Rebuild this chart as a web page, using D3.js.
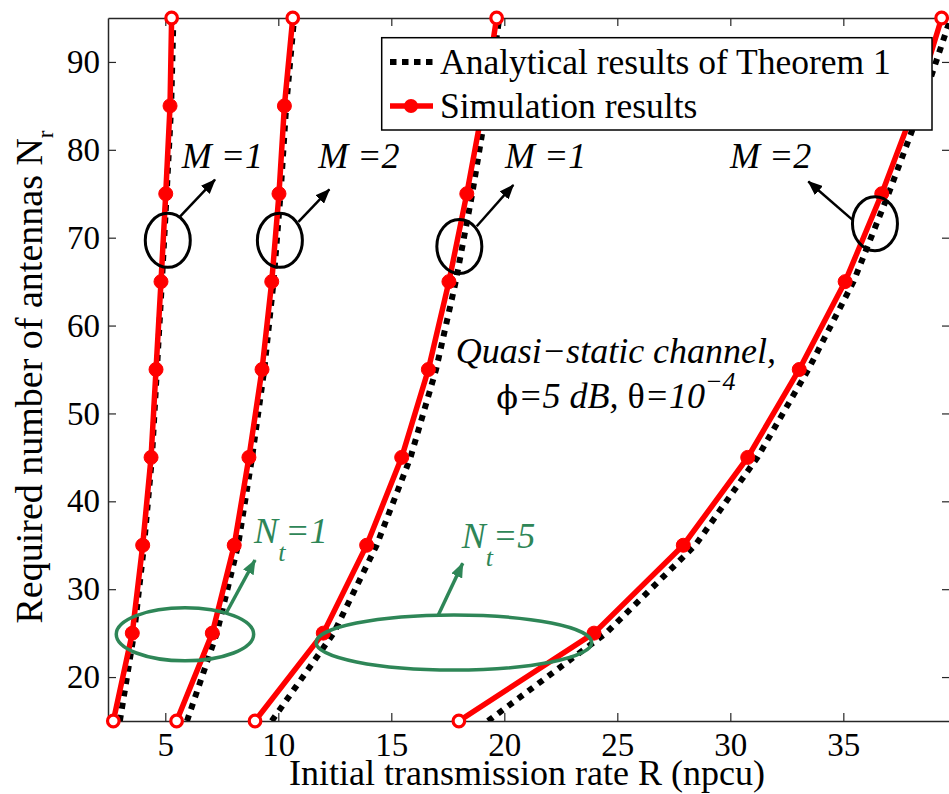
<!DOCTYPE html>
<html>
<head>
<meta charset="utf-8">
<script src="https://cdn.jsdelivr.net/npm/d3@7"></script>
<style>
  html, body { margin: 0; padding: 0; background: #fff; }
  text { font-family: "Liberation Serif", "Times New Roman", serif; }
</style>
</head>
<body>
<script>
// Required number of receive antennas (y values shared by every curve)
const nrValues = [15, 25, 35, 45, 55, 65, 75, 85, 95];

// Initial transmission rate R, one array per curve
const simNt1M1 = [2.70, 3.54, 4.00, 4.37, 4.59, 4.81, 5.02, 5.21, 5.28];
const anaNt1M1 = [2.99, 3.62, 4.06, 4.41, 4.63, 4.85, 5.06, 5.26, 5.36];
const simNt1M2 = [5.50, 7.08, 8.05, 8.70, 9.28, 9.71, 10.03, 10.27, 10.64];
const anaNt1M2 = [5.96, 7.28, 8.22, 8.84, 9.38, 9.79, 10.10, 10.35, 10.70];
const simNt5M1 = [8.97, 11.99, 13.91, 15.46, 16.64, 17.55, 18.34, 19.06, 19.66];
const anaNt5M1 = [9.71, 12.45, 14.35, 15.85, 16.98, 17.85, 18.58, 19.22, 19.78];
const simNt5M2 = [17.99, 23.97, 27.92, 30.77, 33.05, 35.08, 36.70, 38.17, 39.35];
const anaNt5M2 = [19.28, 24.50, 28.45, 31.20, 33.45, 35.45, 37.00, 38.45, 39.75];

// Axis ticks and labels
const xTicks = [5, 10, 15, 20, 25, 30, 35];
const yTicks = [20, 30, 40, 50, 60, 70, 80, 90];
const xLabel = "Initial transmission rate R (npcu)";
const yLabel = "Required number of antennas N";
const legendLabels = ["Analytical results of Theorem 1", "Simulation results"];

// Annotations (data coordinates)
const mLabels = [
    { text: "M =1", x: 5.73, y: 77.9 },
    { text: "M =2", x: 11.77, y: 77.9 },
    { text: "M =1", x: 20.03, y: 77.9 },
    { text: "M =2", x: 29.99, y: 77.9 }
];
const mEllipses = [
    { cx: 5.11, cy: 69.7 }, { cx: 10.07, cy: 69.7 },
    { cx: 18.01, cy: 69.0 }, { cx: 36.40, cy: 71.6 }
];
const mArrows = [
    { x1: 5.65, y1: 72.4, x2: 7.20, y2: 76.6 },
    { x1: 10.89, y1: 71.8, x2: 12.26, y2: 75.5 },
    { x1: 18.78, y1: 71.3, x2: 20.40, y2: 76.0 },
    { x1: 35.42, y1: 72.0, x2: 33.45, y2: 76.4 }
];
const ntLabels = [
    { sub: "t", val: "=1", x: 8.93, y: 35.3 },
    { sub: "t", val: "=5", x: 18.12, y: 34.65 }
];
const ntEllipses = [
    { cx: 5.87, cy: 24.87, rx: 68.7, ry: 26.5 },
    { cx: 17.77, cy: 23.93, rx: 137.8, ry: 27.5 }
];
const ntArrows = [
    { x1: 7.69, y1: 27.26, x2: 8.97, y2: 33.32 },
    { x1: 17.08, y1: 27.06, x2: 18.16, y2: 32.95 }
];

const W = 949, H = 794;
const plot = { left: 108, right: 950, top: 18, bottom: 721 };
const green = "#2e8657";

const svg = d3.select("body").append("svg")
    .attr("width", W)
    .attr("height", H)
    .style("display", "block");

svg.append("rect").attr("width", W).attr("height", H).attr("fill", "#fff");

const x = d3.scaleLinear().domain([2.465, 39.72]).range([plot.left, plot.right]);
const y = d3.scaleLinear().domain([15, 95]).range([plot.bottom, plot.top]);

const defs = svg.append("defs");
defs.append("clipPath").attr("id", "clip")
    .append("rect")
    .attr("x", plot.left).attr("y", plot.top)
    .attr("width", plot.right - plot.left)
    .attr("height", plot.bottom - plot.top);

function arrowHead(id, color) {
    defs.append("marker")
        .attr("id", id)
        .attr("markerUnits", "userSpaceOnUse")
        .attr("viewBox", "0 0 15 12")
        .attr("refX", 14).attr("refY", 6)
        .attr("markerWidth", 15).attr("markerHeight", 12)
        .attr("orient", "auto")
        .append("path")
        .attr("d", "M0,0 L15,6 L0,12 Z")
        .attr("fill", color);
}
arrowHead("headBlack", "#000");
arrowHead("headGreen", green);

// axes (box with inward ticks on all sides)
function styleAxis(g) {
    g.attr("font-family", null).attr("font-size", 33);
    g.select(".domain").attr("stroke", "#262626").attr("stroke-width", 1.5);
    g.selectAll(".tick line").attr("stroke", "#262626").attr("stroke-width", 1.2);
    g.selectAll(".tick text").attr("fill", "#000");
}

svg.append("g")
    .attr("transform", `translate(0,${plot.bottom})`)
    .call(d3.axisBottom(x).tickValues(xTicks).tickSize(-8).tickSizeOuter(0).tickPadding(12))
    .call(styleAxis);

svg.append("g")
    .attr("transform", `translate(0,${plot.top})`)
    .call(d3.axisTop(x).tickValues(xTicks).tickSize(-8).tickSizeOuter(0).tickFormat(""))
    .call(styleAxis);

svg.append("g")
    .attr("transform", `translate(${plot.left},0)`)
    .call(d3.axisLeft(y).tickValues(yTicks).tickSize(-8).tickSizeOuter(0).tickPadding(8))
    .call(styleAxis);

svg.append("g")
    .attr("transform", `translate(${plot.right},0)`)
    .call(d3.axisRight(y).tickValues(yTicks).tickSize(-8).tickSizeOuter(0).tickFormat(""))
    .call(styleAxis);

// axis labels
svg.append("text")
    .attr("x", 527)
    .attr("y", 785)
    .attr("text-anchor", "middle")
    .attr("font-size", 36)
    .text(xLabel);

const yl = svg.append("text")
    .attr("transform", "translate(42,377) rotate(-90)")
    .attr("text-anchor", "middle")
    .attr("font-size", 38);
yl.append("tspan").text(yLabel);
yl.append("tspan").attr("font-size", 23).attr("dy", 11).text("r");

// curves: analytical (dotted) first, simulation drawn over it
const series = [
    { sim: simNt1M1, ana: anaNt1M1 },
    { sim: simNt1M2, ana: anaNt1M2 },
    { sim: simNt5M1, ana: anaNt5M1 },
    { sim: simNt5M2, ana: anaNt5M2 }
];

const line = d3.line().x(d => x(d[0])).y(d => y(d[1]));
const curves = svg.append("g").attr("clip-path", "url(#clip)");

series.forEach(s => {
    curves.append("path")
        .attr("d", line(s.ana.map((v, i) => [v, nrValues[i]])))
        .attr("fill", "none")
        .attr("stroke", "#000")
        .attr("stroke-width", 6)
        .attr("stroke-dasharray", "6,6.5");
});

series.forEach(s => {
    curves.append("path")
        .attr("d", line(s.sim.map((v, i) => [v, nrValues[i]])))
        .attr("fill", "none")
        .attr("stroke", "#ff0000")
        .attr("stroke-width", 5.5);
});

// markers (not clipped; the ones on the box edge come out hollow)
const onEdge = d => d[1] === 15 || d[1] === 95;
series.forEach(s => {
    svg.append("g").selectAll("circle")
        .data(s.sim.map((v, i) => [v, nrValues[i]]))
        .join("circle")
        .attr("cx", d => x(d[0]))
        .attr("cy", d => y(d[1]))
        .attr("r", d => onEdge(d) ? 5.8 : 7)
        .attr("fill", d => onEdge(d) ? "#fff" : "#ff0000")
        .attr("stroke", "#ff0000")
        .attr("stroke-width", d => onEdge(d) ? 3.2 : 1);
});

// M annotations
const ann = svg.append("g");
mEllipses.forEach(e => {
    ann.append("ellipse")
        .attr("cx", x(e.cx)).attr("cy", y(e.cy))
        .attr("rx", 22.5).attr("ry", 27)
        .attr("fill", "none")
        .attr("stroke", "#000")
        .attr("stroke-width", 3);
});
mArrows.forEach(a => {
    ann.append("line")
        .attr("x1", x(a.x1)).attr("y1", y(a.y1))
        .attr("x2", x(a.x2)).attr("y2", y(a.y2))
        .attr("stroke", "#000")
        .attr("stroke-width", 2.5)
        .attr("marker-end", "url(#headBlack)");
});
mLabels.forEach(m => {
    ann.append("text")
        .attr("x", x(m.x)).attr("y", y(m.y))
        .attr("font-size", 36)
        .attr("font-style", "italic")
        .text(m.text);
});

// N_t annotations
ntEllipses.forEach(e => {
    ann.append("ellipse")
        .attr("cx", x(e.cx)).attr("cy", y(e.cy))
        .attr("rx", e.rx).attr("ry", e.ry)
        .attr("fill", "none")
        .attr("stroke", green)
        .attr("stroke-width", 3.5);
});
ntArrows.forEach(a => {
    ann.append("line")
        .attr("x1", x(a.x1)).attr("y1", y(a.y1))
        .attr("x2", x(a.x2)).attr("y2", y(a.y2))
        .attr("stroke", green)
        .attr("stroke-width", 3.5)
        .attr("marker-end", "url(#headGreen)");
});
ntLabels.forEach(n => {
    const t = ann.append("text")
        .attr("x", x(n.x)).attr("y", y(n.y))
        .attr("font-size", 36)
        .attr("font-style", "italic")
        .attr("fill", green);
    t.append("tspan").text("N");
    t.append("tspan").attr("font-size", 26).attr("dy", 18).text(n.sub);
    t.append("tspan").attr("dy", -18).text(n.val);
});

// channel description
ann.append("text")
    .attr("x", x(24.94)).attr("y", y(55.71))
    .attr("text-anchor", "middle")
    .attr("font-size", 36)
    .attr("font-style", "italic")
    .text("Quasi\u2212static channel,");

const l2 = ann.append("text")
    .attr("x", x(24.94)).attr("y", y(50.58))
    .attr("text-anchor", "middle")
    .attr("font-size", 36);
l2.append("tspan").style("font-family", "'DejaVu Serif', 'Liberation Serif', serif").attr("font-size", 32).text("\u03d5");
l2.append("tspan").attr("font-style", "italic").text("=5 dB, ");
l2.append("tspan").text("\u03b8");
l2.append("tspan").attr("font-style", "italic").text("=10");
l2.append("tspan").attr("font-style", "italic").attr("font-size", 26).attr("dy", -18).text("\u22124");

// legend
const lg = svg.append("g");
lg.append("rect")
    .attr("x", 381.7).attr("y", 37.7)
    .attr("width", 550.3).attr("height", 92.3)
    .attr("fill", "#fff")
    .attr("stroke", "#000")
    .attr("stroke-width", 1.5);

lg.append("line")
    .attr("x1", 390).attr("x2", 433)
    .attr("y1", 62).attr("y2", 62)
    .attr("stroke", "#000")
    .attr("stroke-width", 6)
    .attr("stroke-dasharray", "6.5,5.5");

lg.append("line")
    .attr("x1", 390).attr("x2", 433)
    .attr("y1", 106).attr("y2", 106)
    .attr("stroke", "#ff0000")
    .attr("stroke-width", 5.5);
lg.append("circle")
    .attr("cx", 411).attr("cy", 106).attr("r", 7)
    .attr("fill", "#ff0000");

legendLabels.forEach((d, i) => {
    lg.append("text")
        .attr("x", 440)
        .attr("y", 73.5 + i * 44.5)
        .attr("font-size", 35.5)
        .text(d);
});
</script>
</body>
</html>
